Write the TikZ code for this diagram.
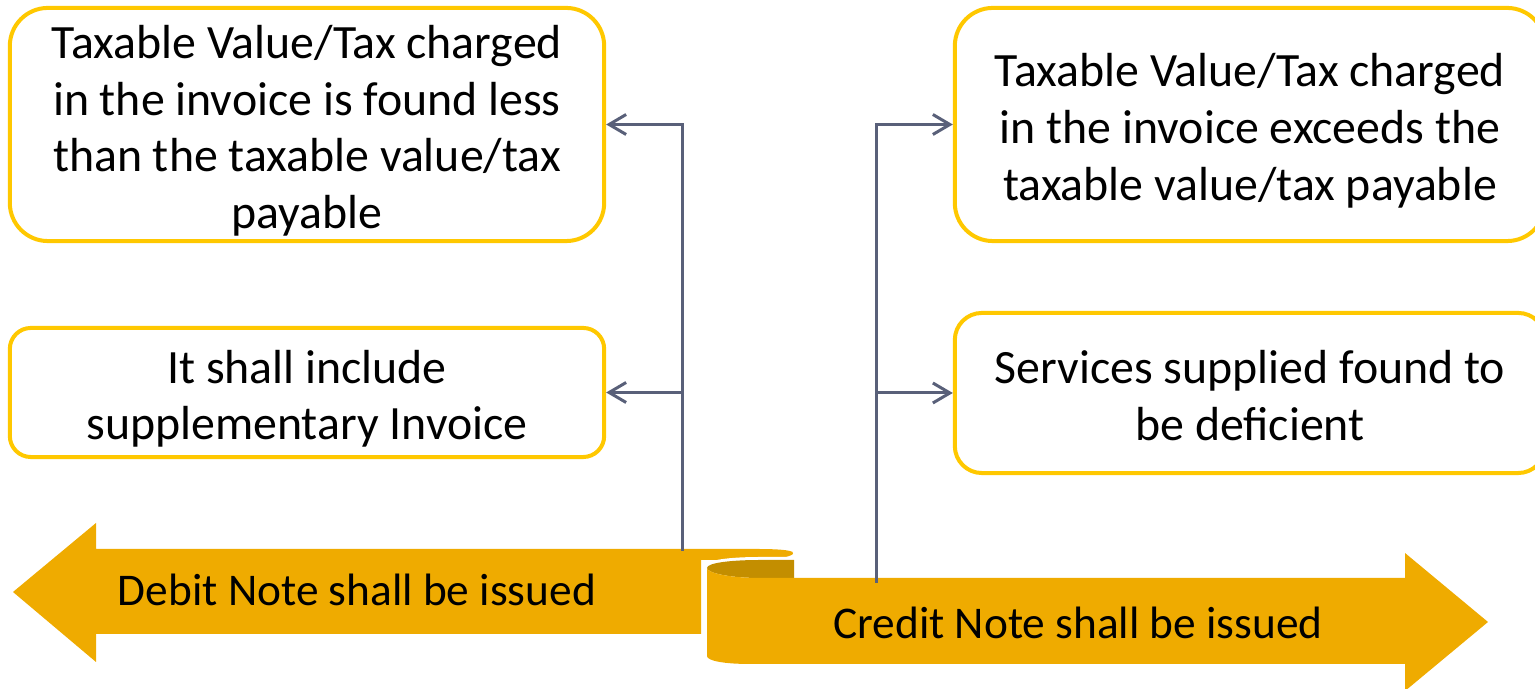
\documentclass[tikz,border=0pt]{standalone}
\usepackage{fontspec}
\setmainfont{Carlito}
\usetikzlibrary{arrows.meta}
\definecolor{gold}{RGB}{239,171,0}
\definecolor{golddark}{RGB}{195,142,0}
\definecolor{boxy}{RGB}{255,200,0}
\definecolor{connc}{RGB}{89,96,121}
\newcommand\myTopFix{\rule{0pt}{13pt}}
\begin{document}
\begin{tikzpicture}[x=0.01cm,y=-0.01cm,
  box/.style={draw=boxy, line width=0.04cm, fill=white, align=center,
    font=\fontsize{13.6}{16.2}\selectfont, inner sep=0pt},
  connline/.style={draw=connc, line width=0.03cm},
  arr/.style={connline, -{Straight Barb[length=0.17cm,width=0.2cm,line width=0.03cm]}},
  ribbontext/.style={font=\fontsize{12.9}{16.2}\selectfont, inner sep=0pt}]
\useasboundingbox (0,0) rectangle (1535,689);

% boxes
\node[box, rounded corners=0.38cm, minimum width=5.94cm, minimum height=2.33cm] (b1) at (307,124.5)
  {\myTopFix Taxable Value/Tax charged\\in the invoice is found less\\than the taxable value/tax\\payable};
\node[box, rounded corners=0.21cm, minimum width=5.94cm, minimum height=1.29cm] (b2) at (307,392.5)
  {\myTopFix It shall include\\supplementary Invoice};
\node[box, rounded corners=0.38cm, minimum width=5.9cm, minimum height=2.33cm] (b3) at (1250,124.5)
  {\myTopFix Taxable Value/Tax charged\\in the invoice exceeds the\\taxable value/tax payable};
\node[box, rounded corners=0.27cm, minimum width=5.9cm, minimum height=1.6cm] (b4) at (1250,393)
  {\rule{0pt}{11pt}Services supplied found to\\be deficient};

% debit arrow (left part of ribbon)
\fill[gold] (13,592) -- (96,523) -- (96,549) -- (757,549)
  .. controls (785,549) and (796,551) .. (793,554)
  .. controls (790,557) and (775,560) .. (757,560)
  -- (701,560) -- (701,634) -- (96,634) -- (96,662) -- cycle;

% white halo around the credit cylinder
\filldraw[fill=white, draw=white, line width=0.06cm]
  (794,560) -- (760,560) .. controls (730,560) and (707,563) .. (707,568)
  -- (707,656) .. controls (707,661) and (725,664) .. (750,664)
  -- (794,664) -- cycle;

% dark inner cap
\fill[golddark] (707,568) .. controls (707,563) and (730,560) .. (760,560)
  -- (794,560) -- (794,578) -- (760,578) .. controls (730,578) and (707,573) .. (707,568);

% credit arrow body
\fill[gold] (707,568) .. controls (707,573) and (730,578) .. (760,578)
  -- (1405,578) -- (1405,553) -- (1488,622) -- (1405,691) -- (1405,664)
  -- (750,664) .. controls (725,664) and (707,661) .. (707,656) -- cycle;

\node[ribbontext] (dt) at (357,590) {Debit Note shall be issued};
\node[ribbontext] (ct) at (1078,623) {Credit Note shall be issued};

% connectors
\coordinate (dtop) at (682,551);
\coordinate (ctop) at (876,583);
\draw[arr] (dtop) |- (b1.east);
\draw[arr] (dtop |- b2.east) -- (b2.east);
\draw[arr] (ctop) |- (b3.west);
\draw[arr] (ctop |- b4.west) -- (b4.west);
\end{tikzpicture}
\end{document}
